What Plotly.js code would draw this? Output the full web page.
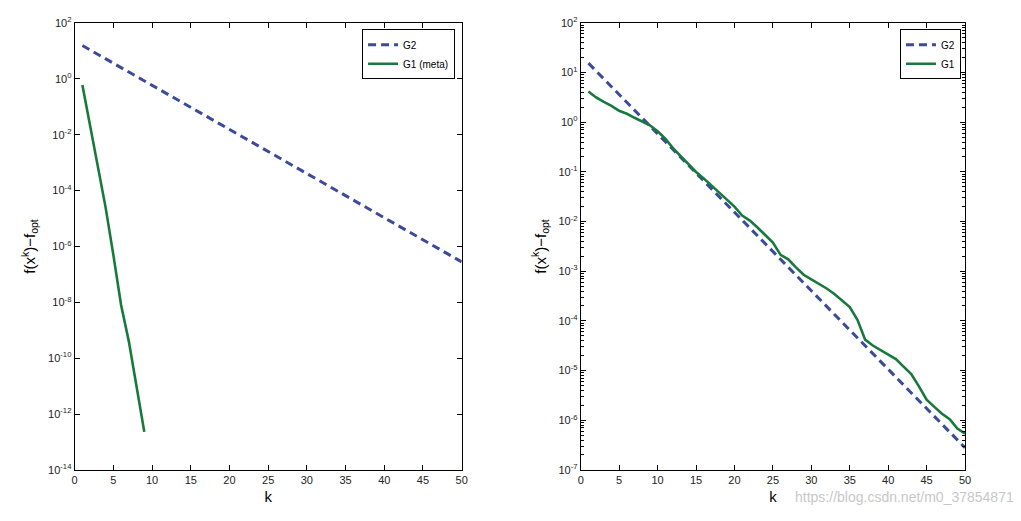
<!DOCTYPE html>
<html>
<head>
<meta charset="utf-8">
<script src="https://cdn.plot.ly/plotly-3.0.1.min.js"></script>
<style>html,body{margin:0;padding:0;background:#fff;}#chart{width:1021px;height:521px;}</style>
</head>
<body>
<div id="chart"></div>
<script>
// ---- data ----
const kG2 = [1, 10, 20, 30, 40, 50];
const valG2 = [15.5, 0.59, 0.0155, 4.1e-4, 1.07e-5, 2.8e-7];

const kG1meta = [1, 2, 3, 4, 5, 6, 7, 8, 9];
const valG1meta = [0.6, 0.021, 7e-4, 2.5e-5, 5e-7, 8e-9, 4e-10, 1e-11, 2.3e-13];

const kG1 = [1,2,3,4,5,6,7,8,9,10,11,12,13,14,15,16,17,18,19,20,21,22,23,24,25,
             26,27,28,29,30,31,32,33,34,35,36,37,38,39,40,41,42,43,44,45,46,47,48,49,50];
const valG1 = [4.17, 3.16, 2.57, 2.14, 1.70, 1.48, 1.23, 1.05, 0.871, 0.661,
               0.468, 0.302, 0.209, 0.141, 0.100, 0.0741, 0.0537, 0.0372, 0.0275, 0.0200,
               0.0132, 0.0105, 0.00759, 0.00537, 0.00380, 0.00214, 0.00174, 0.00120, 8.5e-4, 6.9e-4,
               5.6e-4, 4.5e-4, 3.5e-4, 2.6e-4, 1.9e-4, 1.05e-4, 4.2e-5, 3.2e-5, 2.6e-5, 2.1e-5,
               1.7e-5, 1.2e-5, 8.5e-6, 4.8e-6, 2.6e-6, 1.86e-6, 1.35e-6, 1.05e-6, 6.8e-7, 5.4e-7];

const xTicks = [0,5,10,15,20,25,30,35,40,45,50];
const leftExp = [2,0,-2,-4,-6,-8,-10,-12,-14];
const rightExp = [2,1,0,-1,-2,-3,-4,-5,-6,-7];

// ---- helpers ----
const blue = '#3a4b9c', green = '#17793c';
const tickFont = {family: 'Liberation Sans, Arial, sans-serif', size: 11, color: '#222'};
function expVals(e){ return e.map(v => Math.pow(10, v)); }
function expText(e){ return e.map(v => '10<sup>' + v + '</sup>'); }
function minorVals(e){
  const out = [];
  const lo = Math.min(...e), hi = Math.max(...e);
  for (let d = lo; d < hi; d++) for (let m = 2; m <= 9; m++) out.push(m * Math.pow(10, d));
  return out;
}

const xAxisBase = {
  range: [0, 50], tickmode: 'array', tickvals: xTicks, ticks: 'inside', ticklen: 5,
  tickcolor: '#000', showline: true, linecolor: '#000', linewidth: 1, mirror: 'ticks',
  showgrid: false, zeroline: false, tickfont: tickFont,
  title: {text: 'k', font: {family: 'Liberation Sans, Arial, sans-serif', size: 15, color: '#000'}, standoff: 6}
};
const yTitle = {text: 'f(x<sup>k</sup>)\u2212f<sub>opt</sub>', font: {family: 'Liberation Sans, Arial, sans-serif', size: 15, color: '#000'}, standoff: 8};

const traces = [
  {x: kG2, y: valG2, xaxis: 'x', yaxis: 'y', mode: 'lines', name: 'G2', legend: 'legend',
   line: {color: blue, width: 3, dash: '8px,5px'}},
  {x: kG1meta, y: valG1meta, xaxis: 'x', yaxis: 'y', mode: 'lines', name: 'G1 (meta)', legend: 'legend',
   line: {color: green, width: 2.6}},
  {x: kG2, y: valG2, xaxis: 'x2', yaxis: 'y2', mode: 'lines', name: 'G2', legend: 'legend2',
   line: {color: blue, width: 3, dash: '8px,5px'}},
  {x: kG1, y: valG1, xaxis: 'x2', yaxis: 'y2', mode: 'lines', name: 'G1', legend: 'legend2',
   line: {color: green, width: 2.6}},
  {x: [null], y: [null], xaxis: 'x2', yaxis: 'y3', mode: 'lines', showlegend: false, hoverinfo: 'skip'}
];

const legendBase = {
  bgcolor: '#fff', bordercolor: '#000', borderwidth: 1,
  font: {family: 'Liberation Sans, Arial, sans-serif', size: 10, color: '#000'},
  xanchor: 'right', yanchor: 'top', tracegroupgap: 0, itemwidth: 30
};

const layout = {
  width: 1021, height: 521,
  margin: {l: 0, r: 0, t: 0, b: 0},
  paper_bgcolor: '#fff', plot_bgcolor: '#fff',
  showlegend: true,
  xaxis: Object.assign({}, xAxisBase, {domain: [0.0731, 0.4522], anchor: 'y'}),
  yaxis: {type: 'log', range: [-14, 2], domain: [0.098, 0.956], anchor: 'x',
    tickmode: 'array', tickvals: expVals(leftExp), ticktext: expText(leftExp),
    ticks: 'inside', ticklen: 5, tickcolor: '#000', showline: true, linecolor: '#000', mirror: 'ticks',
    showgrid: false, zeroline: false, tickfont: tickFont, title: yTitle},
  xaxis2: Object.assign({}, xAxisBase, {domain: [0.5688, 0.9452], anchor: 'y2'}),
  yaxis2: {type: 'log', range: [-7, 2], domain: [0.098, 0.956], anchor: 'x2',
    tickmode: 'array', tickvals: expVals(rightExp), ticktext: expText(rightExp),
    ticks: 'inside', ticklen: 5, tickcolor: '#000', showline: true, linecolor: '#000', mirror: 'ticks',
    showgrid: false, zeroline: false, tickfont: tickFont, title: yTitle},
  yaxis3: {type: 'log', range: [-7, 2], domain: [0.098, 0.956], anchor: 'x2', overlaying: 'y2',
    tickmode: 'array', tickvals: minorVals(rightExp), showticklabels: false,
    ticks: 'inside', ticklen: 3, tickcolor: '#000', showline: false, mirror: 'ticks',
    showgrid: false, zeroline: false},
  legend: Object.assign({}, legendBase, {x: 0.4457, y: 0.944}),
  legend2: Object.assign({}, legendBase, {x: 0.9412, y: 0.944}),
  annotations: [
    {text: 'https://blog.csdn.net/m0_37854871', xref: 'paper', yref: 'paper', x: 0.995, y: 0.046,
     xanchor: 'right', yanchor: 'middle', showarrow: false,
     font: {family: 'Liberation Sans, Arial, sans-serif', size: 14, color: '#c8c8c8'}}
  ]
};

Plotly.newPlot('chart', traces, layout, {staticPlot: true, displayModeBar: false});
</script>
</body>
</html>
